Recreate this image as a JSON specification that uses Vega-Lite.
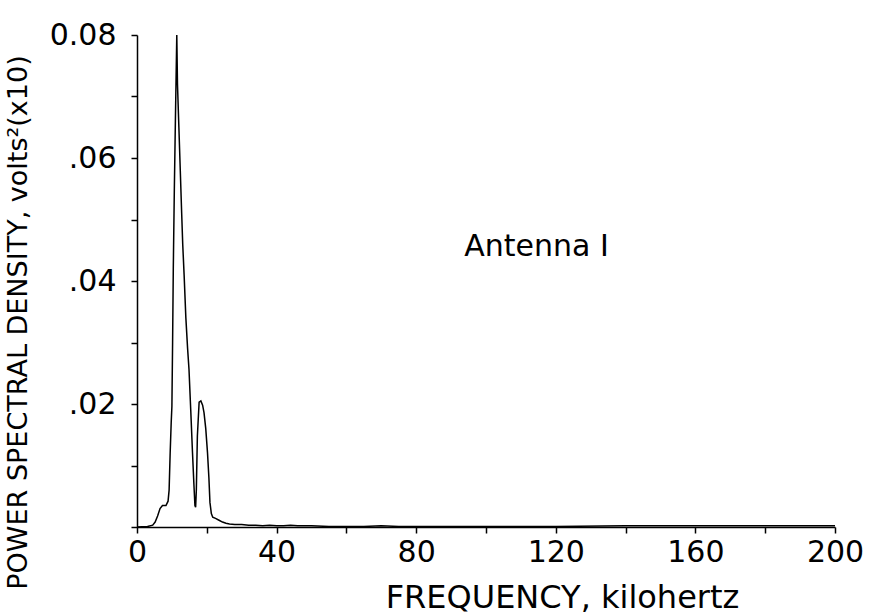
{
  "$schema": "https://vega.github.io/schema/vega-lite/v6.json",
  "autosize": {"type": "none"},
  "width": 698,
  "height": 492,
  "padding": {"left": 137, "top": 35, "right": 36, "bottom": 89},
  "background": "white",
  "config": {"view": {"stroke": null}, "font": "DejaVu Sans"},
  "datasets": {
    "psd": [
      {"f": 0, "v": 0}, {"f": 3, "v": 0.0001}, {"f": 4.5, "v": 0.0003}, {"f": 5.2, "v": 0.0008},
      {"f": 5.9, "v": 0.0018}, {"f": 6.6, "v": 0.003}, {"f": 7.3, "v": 0.0035}, {"f": 8.3, "v": 0.0035},
      {"f": 8.9, "v": 0.0042}, {"f": 9.2, "v": 0.006}, {"f": 9.5, "v": 0.012}, {"f": 9.8, "v": 0.017},
      {"f": 10.0, "v": 0.0196}, {"f": 10.2, "v": 0.03}, {"f": 10.4, "v": 0.042}, {"f": 10.7, "v": 0.055},
      {"f": 11.0, "v": 0.066}, {"f": 11.2, "v": 0.073}, {"f": 11.4, "v": 0.080}, {"f": 11.6, "v": 0.072},
      {"f": 12.0, "v": 0.065}, {"f": 12.4, "v": 0.058}, {"f": 12.8, "v": 0.051}, {"f": 13.1, "v": 0.046},
      {"f": 13.5, "v": 0.041}, {"f": 14.0, "v": 0.034}, {"f": 14.5, "v": 0.029}, {"f": 14.9, "v": 0.0256},
      {"f": 15.4, "v": 0.019}, {"f": 15.9, "v": 0.0121}, {"f": 16.3, "v": 0.007}, {"f": 16.6, "v": 0.0035},
      {"f": 16.8, "v": 0.0032}, {"f": 17.0, "v": 0.006}, {"f": 17.3, "v": 0.0148}, {"f": 17.8, "v": 0.0203},
      {"f": 18.3, "v": 0.0205}, {"f": 18.8, "v": 0.0198}, {"f": 19.2, "v": 0.0186}, {"f": 19.7, "v": 0.016},
      {"f": 20.2, "v": 0.0121}, {"f": 20.6, "v": 0.008}, {"f": 20.9, "v": 0.004}, {"f": 21.3, "v": 0.0022},
      {"f": 21.7, "v": 0.0016}, {"f": 22.5, "v": 0.0014}, {"f": 23.5, "v": 0.0011}, {"f": 24.5, "v": 0.0008},
      {"f": 25.5, "v": 0.0006}, {"f": 26.5, "v": 0.0005}, {"f": 28, "v": 0.0004}, {"f": 30, "v": 0.0004},
      {"f": 32, "v": 0.0003}, {"f": 34, "v": 0.0003}, {"f": 36, "v": 0.0002}, {"f": 38, "v": 0.0003},
      {"f": 40, "v": 0.0002}, {"f": 42, "v": 0.0002}, {"f": 44, "v": 0.0003}, {"f": 46, "v": 0.0002},
      {"f": 50, "v": 0.0002}, {"f": 55, "v": 0.0001}, {"f": 60, "v": 0.0001}, {"f": 65, "v": 0.0001},
      {"f": 70, "v": 0.0002}, {"f": 75, "v": 0.0001}, {"f": 80, "v": 0.0001}, {"f": 100, "v": 0.0001},
      {"f": 120, "v": 0.0001}, {"f": 140, "v": 0.0002}, {"f": 160, "v": 0.0002}, {"f": 180, "v": 0.0002},
      {"f": 200, "v": 0.0002}
    ],
    "note": [{"f": 114.5, "v": 0.0456, "label": "Antenna I"}]
  },
  "layer": [
    {
      "data": {"name": "psd"},
      "mark": {"type": "line", "color": "black", "strokeWidth": 1.5, "interpolate": "linear"},
      "encoding": {
        "x": {
          "field": "f", "type": "quantitative",
          "scale": {"domain": [0, 200], "nice": false, "zero": true},
          "axis": {
            "values": [0, 20, 40, 60, 80, 100, 120, 140, 160, 180, 200],
            "labelExpr": "datum.value % 40 == 0 ? datum.label : ''",
            "title": "FREQUENCY, kilohertz",
            "titleFont": "DejaVu Sans", "titleFontSize": 32, "titleFontWeight": "normal",
            "titleColor": "black", "titleX": 425, "titleY": 70, "titleBaseline": "middle",
            "titleAlign": "center",
            "labelFont": "DejaVu Sans", "labelFontSize": 30, "labelColor": "black",
            "labelPadding": 4, "labelFlush": false, "labelOverlap": false,
            "tickColor": "black", "tickSize": 6, "tickWidth": 1.5,
            "domainColor": "black", "domainWidth": 1.5, "grid": false
          }
        },
        "y": {
          "field": "v", "type": "quantitative",
          "scale": {"domain": [0, 0.08], "nice": false},
          "axis": {
            "values": [0, 0.01, 0.02, 0.03, 0.04, 0.05, 0.06, 0.07, 0.08],
            "labelExpr": "datum.value == 0 ? '' : (round(datum.value * 100) % 2 != 0 ? '' : (datum.value > 0.079 ? '0.08' : '.0' + round(datum.value * 100)))",
            "title": "POWER SPECTRAL DENSITY, volts²(x10)",
            "titleFont": "DejaVu Sans", "titleFontSize": 27, "titleFontWeight": "normal",
            "titleColor": "black", "titleX": -119, "titleY": 287, "titleAngle": -90,
            "titleBaseline": "middle", "titleAlign": "center",
            "labelFont": "DejaVu Sans", "labelFontSize": 30, "labelColor": "black",
            "labelPadding": 15, "labelFlush": false, "labelOverlap": false, "labelBaseline": "middle",
            "tickColor": "black", "tickSize": 6, "tickWidth": 1.5,
            "domainColor": "black", "domainWidth": 1.5, "grid": false
          }
        }
      }
    },
    {
      "data": {"name": "note"},
      "mark": {"type": "text", "font": "DejaVu Sans", "fontSize": 30, "color": "black", "align": "center", "baseline": "middle"},
      "encoding": {
        "x": {"field": "f", "type": "quantitative"},
        "y": {"field": "v", "type": "quantitative"},
        "text": {"field": "label"}
      }
    }
  ]
}
